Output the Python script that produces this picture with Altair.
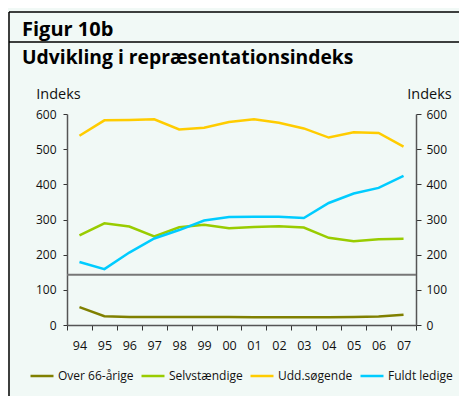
import altair as alt
import pandas as pd

YEARS = ["94", "95", "96", "97", "98", "99", "00", "01", "02", "03", "04", "05", "06", "07"]
OVER66 = [51, 25, 23, 23, 23, 23, 23, 22, 22, 22, 22, 23, 24, 29]
SELV = [255, 289, 280, 252, 278, 285, 275, 279, 281, 277, 248, 238, 244, 245]
UDD = [538, 582, 583, 585, 556, 561, 577, 585, 575, 559, 533, 548, 546, 507]
LEDIGE = [179, 159, 206, 246, 270, 297, 307, 308, 308, 304, 347, 374, 390, 424]
SERIES = ["Over 66-årige", "Selvstændige", "Udd.søgende", "Fuldt ledige"]
COLORS = ["#808000", "#99cc00", "#ffcc00", "#00ccff"]
REF_LINE = [143]
Y_TICKS = [0, 100, 200, 300, 400, 500, 600]
TITLE = "Figur 10b"
SUBTITLE = "Udvikling i repræsentationsindeks"
AXIS_TITLE = "Indeks"

FONT = "Open Sans"
BG = "#f1f9f6"

rows = []
for name, vals in zip(SERIES, [OVER66, SELV, UDD, LEDIGE]):
    for yr, v in zip(YEARS, vals):
        rows.append({"year": yr, "value": v, "series": name})
df = pd.DataFrame(rows)

yscale = alt.Scale(domain=[0, 600], nice=False, zero=True)

common_axis = dict(
    labelFont=FONT, titleFont=FONT, grid=False,
    domainColor="#555555", domainWidth=1.5, tickColor="#333333", tickWidth=1,
    labelColor="#111111", titleColor="#111111",
)

lines = alt.Chart(df).mark_line(strokeWidth=2.5).encode(
    x=alt.X("year:N", sort=YEARS, bandPosition=0.5,
            scale=alt.Scale(type="band", paddingInner=0, paddingOuter=0),
            axis=alt.Axis(title=None, tickBand="extent", labelAngle=0, tickSize=5,
                          labelFontSize=12.5, labelPadding=9, **common_axis)),
    y=alt.Y("value:Q", scale=yscale,
            axis=alt.Axis(values=Y_TICKS, title=AXIS_TITLE, titleAngle=0, titleFontSize=14.5,
                          titleFontWeight="normal", titleAlign="center", titleBaseline="alphabetic",
                          titleX=-9, titleY=-16, tickSize=4, labelFontSize=12, labelPadding=7,
                          **common_axis)),
    color=alt.Color("series:N", sort=SERIES,
                    scale=alt.Scale(domain=SERIES, range=COLORS),
                    legend=alt.Legend(title=None, orient="none", direction="horizontal",
                                      legendX=-38, legendY=249, symbolType="stroke",
                                      symbolSize=529, symbolStrokeWidth=2.5,
                                      labelFont=FONT, labelFontSize=12, labelColor="#111111",
                                      labelOffset=3, columnPadding=2, padding=0)),
)

ref = alt.Chart(pd.DataFrame({"v": REF_LINE})).mark_rule(color="#777777", strokeWidth=2).encode(
    y=alt.Y("v:Q", scale=yscale,
            axis=alt.Axis(orient="right", values=Y_TICKS, title=AXIS_TITLE, titleAngle=0,
                          titleFontSize=14.5, titleFontWeight="normal", titleAlign="center",
                          titleBaseline="alphabetic", titleX=13, titleY=-16, tickSize=5,
                          labelFontSize=12, labelPadding=5, **common_axis)),
)

frame = alt.Chart(pd.DataFrame({"k": ["top", "mid", "left"],
                                "x": [-58, -58, -58], "x2": [400, 400, -58],
                                "y": [-102, -72, -102], "y2": [-102, -72, 300]})).mark_rule(
    color="#000000", strokeWidth=1.5).encode(
    x=alt.X("x:Q", scale=None), x2="x2:Q",
    y=alt.Y("y:Q", scale=None), y2="y2:Q",
)

titles = alt.Chart(pd.DataFrame({"t": [TITLE, SUBTITLE], "x": [-45, -45], "y": [-78, -50],
                                 "s": [20, 19.3]})).mark_text(
    font=FONT, fontWeight="bold", align="left", baseline="alphabetic", color="#000000"
).encode(
    x=alt.X("x:Q", scale=None), y=alt.Y("y:Q", scale=None), text="t:N",
    size=alt.Size("s:Q", scale=None, legend=None),
)

chart = alt.layer(lines, ref, frame, titles).resolve_scale(y="shared").resolve_axis(y="independent").properties(
    width=349, height=211,
    autosize=alt.AutoSizeParams(type="none"),
    padding={"left": 59, "top": 106, "right": 43, "bottom": 71},
    background=BG,
).configure_view(stroke=None)

chart.save("out.html", embed_options={"renderer": "svg", "actions": False})
